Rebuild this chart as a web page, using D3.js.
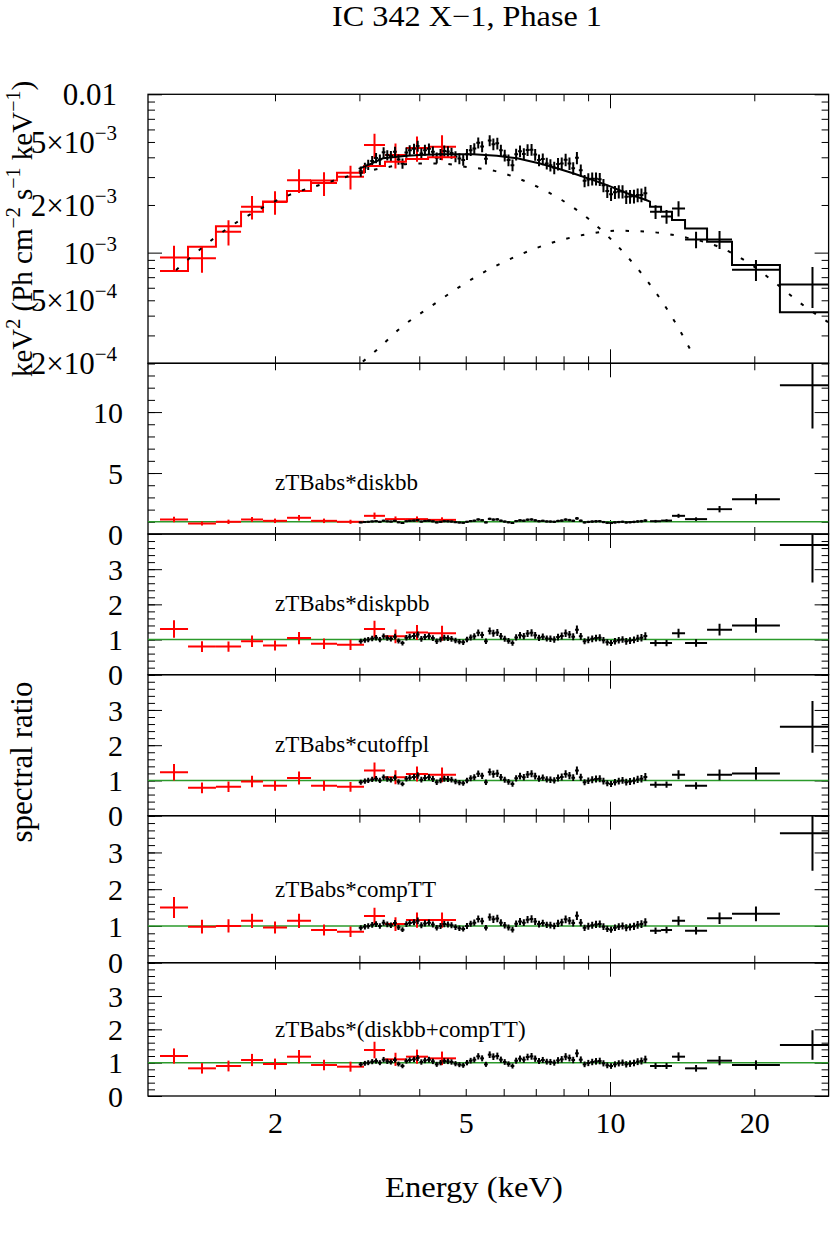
<!DOCTYPE html>
<html>
<head>
<meta charset="utf-8">
<title>IC 342 X-1, Phase 1</title>
<script src="https://cdn.jsdelivr.net/npm/d3@7"></script>
<style type="text/css">
	body {
		margin: 0;
		background: #fff;
	}

	svg {
		display: block;
	}

	.spectrum text {
		font-family: "Liberation Serif", "DejaVu Serif", serif;
		fill: #000;
	}
</style>
</head>
<body>

<svg class="spectrum"></svg>

<script type="text/javascript">
	(function() {
		'use strict'

		// ---- data (energies in keV, flux in keV^2 Ph cm^-2 s^-1 keV^-1)

		// red instrument: 12 grouped bins
		var redLo = [1.151, 1.317, 1.506, 1.699, 1.888, 2.119, 2.378, 2.694, 3.067, 3.393, 3.752, 4.172]
		var redHi = [1.317, 1.506, 1.699, 1.888, 2.119, 2.378, 2.694, 3.067, 3.393, 3.752, 4.172, 4.772]
		var redFlux = [9.3e-4, 9.2e-4, 1.355e-3, 1.95e-3, 2.09e-3, 2.87e-3, 2.75e-3, 3.02e-3, 4.78e-3, 4.14e-3, 4.58e-3, 4.67e-3]
		var redRelErr = [0.19, 0.19, 0.18, 0.17, 0.17, 0.17, 0.17, 0.17, 0.18, 0.18, 0.18, 0.18]
		var redModel = [7.65e-4, 1.09e-3, 1.47e-3, 1.81e-3, 2.10e-3, 2.45e-3, 2.85e-3, 3.2e-3, 3.52e-3, 3.75e-3, 3.9e-3, 4.0e-3]

		// black instrument, finely binned part (bin centres)
		var blackE = [3.02, 3.08, 3.13, 3.19, 3.25, 3.31, 3.37, 3.43, 3.49, 3.56,
			3.62, 3.69, 3.76, 3.82, 3.90, 3.97, 4.04, 4.11, 4.19, 4.27,
			4.35, 4.43, 4.51, 4.59, 4.67, 4.76, 4.85, 4.94, 5.03, 5.12,
			5.21, 5.31, 5.41, 5.51, 5.61, 5.71, 5.82, 5.92, 6.03, 6.14,
			6.26, 6.37, 6.49, 6.61, 6.73, 6.86, 6.98, 7.11, 7.24, 7.38,
			7.51, 7.65, 7.79, 7.93, 8.08, 8.23, 8.38, 8.53, 8.69, 8.85,
			9.01, 9.18, 9.35, 9.52, 9.69, 9.87, 10.05, 10.24, 10.43, 10.62,
			10.81, 11.01, 11.22, 11.42, 11.63, 11.85]
		var blackFlux = [3.26e-3, 3.44e-3, 3.59e-3, 3.79e-3, 3.96e-3, 3.87e-3, 4.30e-3, 4.13e-3, 4.08e-3, 4.34e-3,
			3.88e-3, 3.66e-3, 4.29e-3, 4.43e-3, 4.53e-3, 4.71e-3, 4.22e-3, 4.44e-3, 4.53e-3, 4.34e-3,
			3.97e-3, 4.18e-3, 4.39e-3, 4.35e-3, 4.26e-3, 4.05e-3, 3.93e-3, 3.85e-3, 4.18e-3, 4.43e-3,
			4.55e-3, 4.94e-3, 4.68e-3, 3.92e-3, 5.10e-3, 4.84e-3, 4.90e-3, 4.43e-3, 4.11e-3, 3.84e-3,
			3.57e-3, 4.18e-3, 4.37e-3, 4.20e-3, 4.45e-3, 4.47e-3, 4.16e-3, 3.84e-3, 3.90e-3, 3.66e-3,
			3.57e-3, 3.44e-3, 3.63e-3, 3.66e-3, 3.86e-3, 3.66e-3, 3.41e-3, 3.97e-3, 3.31e-3, 2.84e-3,
			2.90e-3, 2.93e-3, 2.93e-3, 2.91e-3, 2.66e-3, 2.45e-3, 2.34e-3, 2.41e-3, 2.43e-3, 2.43e-3,
			2.25e-3, 2.26e-3, 2.27e-3, 2.31e-3, 2.31e-3, 2.37e-3]
		var blackRelErr = [0.075, 0.075, 0.075, 0.075, 0.075, 0.075, 0.075, 0.075, 0.075, 0.075,
			0.075, 0.075, 0.075, 0.075, 0.075, 0.08, 0.08, 0.08, 0.08, 0.08,
			0.08, 0.08, 0.08, 0.08, 0.08, 0.08, 0.08, 0.08, 0.08, 0.08,
			0.08, 0.08, 0.08, 0.08, 0.08, 0.085, 0.085, 0.085, 0.085, 0.085,
			0.085, 0.085, 0.085, 0.085, 0.085, 0.085, 0.085, 0.085, 0.085, 0.085,
			0.09, 0.09, 0.09, 0.09, 0.09, 0.09, 0.09, 0.09, 0.09, 0.09,
			0.095, 0.095, 0.095, 0.095, 0.095, 0.095, 0.095, 0.095, 0.095, 0.095,
			0.10, 0.10, 0.10, 0.10, 0.10, 0.10]
		// ratio of the fine bins (same pattern in every residual panel)
		var blackRatio = [0.95, 0.98, 1.00, 1.03, 1.05, 1.00, 1.09, 1.04, 1.02, 1.08,
			0.96, 0.90, 1.05, 1.08, 1.10, 1.14, 1.02, 1.07, 1.09, 1.04,
			0.95, 1.00, 1.05, 1.04, 1.02, 0.97, 0.94, 0.92, 1.00, 1.06,
			1.09, 1.19, 1.13, 0.95, 1.24, 1.18, 1.20, 1.09, 1.02, 0.96,
			0.90, 1.06, 1.12, 1.09, 1.17, 1.19, 1.12, 1.05, 1.08, 1.03,
			1.02, 1.00, 1.07, 1.10, 1.18, 1.14, 1.08, 1.28, 1.09, 0.95,
			0.99, 1.02, 1.04, 1.05, 0.98, 0.92, 0.90, 0.95, 0.98, 1.00,
			0.95, 0.97, 0.99, 1.03, 1.05, 1.10]
		// black model over the fine bins
		var blackModelE = [2.99, 3.16, 3.36, 3.56, 3.77, 4.01, 4.42, 5.18, 5.81, 6.40, 7.14, 7.75, 8.37, 9.22, 9.86, 10.85, 11.89, 12.12]
		var blackModelF = [3.38e-3, 3.62e-3, 3.94e-3, 4.02e-3, 4.09e-3, 4.14e-3, 4.18e-3, 4.18e-3, 4.09e-3, 3.94e-3, 3.66e-3, 3.41e-3, 3.17e-3, 2.87e-3, 2.67e-3, 2.37e-3, 2.15e-3, 2.10e-3]

		// black instrument, wide bins above 12 keV
		var blackHiLo = [12.12, 12.78, 13.47, 14.34, 15.94, 17.97, 22.62]
		var blackHiHi = [12.78, 13.47, 14.34, 15.94, 17.97, 22.62, 30.93]
		var blackHiFlux = [1.81e-3, 1.69e-3, 1.90e-3, 1.21e-3, 1.21e-3, 7.8e-4, 6.3e-4]
		var blackHiRelErr = [0.10, 0.10, 0.11, 0.12, 0.13, 0.15, 0.29]
		var blackHiModel = [1.95e-3, 1.81e-3, 1.61e-3, 1.42e-3, 1.17e-3, 8.35e-4, 4.2e-4]

		// dotted model components
		var diskbbE = [1.243, 1.406, 1.611, 1.843, 2.139, 2.515, 2.938, 3.42, 3.918, 4.42, 4.98, 5.84, 6.86, 7.93, 9.08, 10.24, 11.40, 12.61, 13.78, 14.92]
		var diskbbF = [7.76e-4, 1.069e-3, 1.458e-3, 1.858e-3, 2.31e-3, 2.71e-3, 3.12e-3, 3.46e-3, 3.66e-3, 3.66e-3, 3.49e-3, 3.24e-3, 2.71e-3, 2.15e-3, 1.607e-3, 1.145e-3, 7.96e-4, 5.32e-4, 3.49e-4, 2.25e-4]
		var compttE = [3.05, 3.26, 3.68, 4.20, 4.80, 5.53, 6.41, 7.50, 8.77, 10.36, 12.22, 14.34, 16.70, 19.43, 22.09, 25.12, 28.5]
		var compttF = [2.05e-4, 2.43e-4, 3.40e-4, 4.51e-4, 5.95e-4, 7.69e-4, 9.56e-4, 1.145e-3, 1.292e-3, 1.375e-3, 1.349e-3, 1.249e-3, 1.101e-3, 8.63e-4, 6.46e-4, 4.73e-4, 3.64e-4]

		// spectral ratios, one row per fitted model
		var modelNames = ['zTBabs*diskbb', 'zTBabs*diskpbb', 'zTBabs*cutoffpl', 'zTBabs*compTT', 'zTBabs*(diskbb+compTT)']
		var redRatio = [
			[1.19, 0.86, 1.00, 1.19, 1.08, 1.33, 1.08, 1.00, 1.49, 1.22, 1.22, 1.16],
			[1.30, 0.80, 0.80, 0.95, 0.83, 1.04, 0.88, 0.85, 1.30, 1.09, 1.20, 1.18],
			[1.23, 0.79, 0.82, 0.97, 0.85, 1.07, 0.85, 0.82, 1.28, 1.09, 1.18, 1.16],
			[1.50, 0.98, 1.00, 1.14, 0.96, 1.14, 0.89, 0.84, 1.27, 1.05, 1.16, 1.16],
			[1.20, 0.83, 0.90, 1.08, 0.96, 1.18, 0.93, 0.88, 1.38, 1.10, 1.18, 1.13]
		]
		var blackHiRatio = [
			[1.05, 1.10, 1.49, 1.22, 2.04, 2.86, 12.2],
			[0.90, 0.90, 1.18, 0.90, 1.28, 1.40, 3.69],
			[0.88, 0.88, 1.16, 0.85, 1.16, 1.20, 2.52],
			[0.87, 0.89, 1.14, 0.87, 1.21, 1.33, 3.52],
			[0.90, 0.90, 1.18, 0.83, 1.06, 0.93, 1.53]
		]

		var xTickMinor = [2, 3, 4, 5, 6, 7, 8, 9, 20]
		var xTickMajor = [10]
		var xTickLabels = [2, 5, 10, 20]

		// ---- layout

		var width = 830
		var height = 1235
		var left = 148
		var right = 828.6
		var minorLen = 7
		var majorLen = 14

		var svg = d3.select('.spectrum')
			.attr('width', width)
			.attr('height', height)
			.attr('viewBox', [0, 0, width, height])

		var x = d3.scaleLog().domain([1.0866, 28.58]).range([left, right])

		var topPanel = {top: 94.3, bottom: 363.3}
		var yTop = d3.scaleLog().domain([2e-4, 0.01]).range([topPanel.bottom, topPanel.top])

		var ratioPanels = [
			{top: 363.3, bottom: 534, max: 14, step: 1, major: [0, 5, 10], labelAt: 3.6},
			{top: 534, bottom: 674.7, max: 4, step: 0.2, major: [0, 1, 2, 3], labelAt: 1.8},
			{top: 674.7, bottom: 815.7, max: 4, step: 0.2, major: [0, 1, 2, 3], labelAt: 1.8},
			{top: 815.7, bottom: 962.7, max: 4, step: 0.2, major: [0, 1, 2, 3], labelAt: 1.8},
			{top: 962.7, bottom: 1096, max: 4, step: 0.2, major: [0, 1, 2, 3], labelAt: 1.76}
		]

		// ---- bins

		var n = blackE.length
		var blackBins = blackE.map(function(e, i) {
			var lo = i > 0 ? Math.sqrt(blackE[i - 1] * e) : e / Math.sqrt(blackE[1] / e)
			var hi = i < n - 1 ? Math.sqrt(e * blackE[i + 1]) : e * Math.sqrt(e / blackE[n - 2])
			return {lo: lo, hi: hi, c: e}
		}).concat(blackHiLo.map(function(lo, i) {
			return {lo: lo, hi: blackHiHi[i], c: Math.sqrt(lo * blackHiHi[i])}
		}))
		var blackVals = blackFlux.concat(blackHiFlux)
		var blackErr = blackRelErr.concat(blackHiRelErr)

		var redBins = redLo.map(function(lo, i) {
			return {lo: lo, hi: redHi[i], c: Math.sqrt(lo * redHi[i])}
		})

		function points(bins, vals, rel) {
			return bins.map(function(b, i) {
				return {lo: b.lo, hi: b.hi, c: b.c, v: vals[i], e: vals[i] * rel[i]}
			})
		}

		function steps(lo, hi, vals) {
			var pts = []
			vals.forEach(function(v, i) {
				pts.push([lo[i], v], [hi[i], v])
			})
			return pts
		}

		// ---- helpers

		var clipId = 0
		function panelGroup(top, bottom) {
			var id = 'clip' + (clipId++)
			svg.append('clipPath').attr('id', id)
				.append('rect')
				.attr('x', left).attr('y', top)
				.attr('width', right - left).attr('height', bottom - top)
			return svg.append('g').attr('clip-path', 'url(#' + id + ')')
		}

		function crosses(g, pts, y, color) {
			var c = g.append('g')
				.attr('stroke', color)
				.attr('stroke-width', 2)
				.attr('fill', 'none')
			c.selectAll('.h').data(pts).join('line')
				.attr('class', 'h')
				.attr('x1', function(d) { return x(d.lo) })
				.attr('x2', function(d) { return x(d.hi) })
				.attr('y1', function(d) { return y(d.v) })
				.attr('y2', function(d) { return y(d.v) })
			c.selectAll('.v').data(pts).join('line')
				.attr('class', 'v')
				.attr('x1', function(d) { return x(d.c) })
				.attr('x2', function(d) { return x(d.c) })
				.attr('y1', function(d) { return y(d.v - d.e) })
				.attr('y2', function(d) { return y(d.v + d.e) })
		}

		function tickAxis(axis, tx, ty, values, len) {
			var g = svg.append('g')
				.attr('transform', 'translate(' + [tx, ty] + ')')
				.call(axis.tickValues(values).tickSize(-len).tickFormat(''))
			g.select('.domain').remove()
			g.selectAll('line').attr('stroke', '#000').attr('stroke-width', 1)
		}

		function frame(top, bottom, y, yMinor, yMajor) {
			tickAxis(d3.axisBottom(x), 0, bottom, xTickMinor, minorLen)
			tickAxis(d3.axisBottom(x), 0, bottom, xTickMajor, majorLen)
			tickAxis(d3.axisTop(x), 0, top, xTickMinor, minorLen)
			tickAxis(d3.axisTop(x), 0, top, xTickMajor, majorLen)
			tickAxis(d3.axisLeft(y), left, 0, yMinor, minorLen)
			tickAxis(d3.axisLeft(y), left, 0, yMajor, majorLen)
			tickAxis(d3.axisRight(y), right, 0, yMinor, minorLen)
			tickAxis(d3.axisRight(y), right, 0, yMajor, majorLen)
			svg.append('rect')
				.attr('x', left).attr('y', top)
				.attr('width', right - left).attr('height', bottom - top)
				.attr('fill', 'none')
				.attr('stroke', '#000')
				.attr('stroke-width', 1.3)
		}

		function labelAxis(axis, tx, ty, values, pad, size) {
			var g = svg.append('g')
				.attr('transform', 'translate(' + [tx, ty] + ')')
				.call(axis.tickValues(values).tickSize(0).tickPadding(pad))
			g.select('.domain').remove()
			g.attr('font-family', null).attr('font-size', size)
			return g
		}

		// text with superscripts: parts are [normal, superscript] pairs
		function richText(t, parts, size) {
			var shift = Math.round(size * 0.42)
			var raised = false
			parts.forEach(function(p) {
				if (p[0]) {
					t.append('tspan').attr('dy', raised ? shift : null).text(p[0])
					raised = false
				}
				if (p[1]) {
					t.append('tspan')
						.attr('dy', raised ? null : -shift)
						.attr('font-size', Math.round(size * 0.68))
						.text(p[1])
					raised = true
				}
			})
		}

		// ---- top panel: unfolded spectrum

		var minorTop = d3.range(2, 10).map(function(k) { return k * 1e-4 })
			.concat(d3.range(2, 10).map(function(k) { return k * 1e-3 }))
		frame(topPanel.top, topPanel.bottom, yTop, minorTop, [1e-3, 1e-2])

		var topLabels = [[0.01, '0.01', ''], [5e-3, '5×10', '−3'], [2e-3, '2×10', '−3'],
			[1e-3, '10', '−3'], [5e-4, '5×10', '−4'], [2e-4, '2×10', '−4']]
		var tl = labelAxis(d3.axisLeft(yTop), left, 0, topLabels.map(function(d) { return d[0] }), 31, 31)
		tl.selectAll('text').each(function(d, i) {
			var t = d3.select(this).text(null).attr('dy', '0.34em')
			richText(t, [[topLabels[i][1], topLabels[i][2]]], 31)
		})

		var gTop = panelGroup(topPanel.top, topPanel.bottom)
		var logLine = d3.line()
			.x(function(d) { return x(d[0]) })
			.y(function(d) { return yTop(d[1]) })

		crosses(gTop, points(redBins, redFlux, redRelErr), yTop, '#ff0000')
		crosses(gTop, points(blackBins, blackVals, blackErr), yTop, '#000')

		gTop.append('path')
			.datum(steps(redLo, redHi, redModel))
			.attr('d', logLine)
			.attr('fill', 'none').attr('stroke', '#ff0000').attr('stroke-width', 2)

		var blackModelPts = blackModelE.map(function(e, i) { return [e, blackModelF[i]] })
			.concat(steps(blackHiLo, blackHiHi, blackHiModel))
		gTop.append('path')
			.datum(blackModelPts)
			.attr('d', logLine)
			.attr('fill', 'none').attr('stroke', '#000').attr('stroke-width', 2)

		var dotted = d3.line()
			.x(function(d) { return x(d[0]) })
			.y(function(d) { return yTop(d[1]) })
			.curve(d3.curveMonotoneX)
		;[[diskbbE, diskbbF], [compttE, compttF]].forEach(function(c) {
			gTop.append('path')
				.datum(c[0].map(function(e, i) { return [e, c[1][i]] }))
				.attr('d', dotted)
				.attr('fill', 'none')
				.attr('stroke', '#000')
				.attr('stroke-width', 2)
				.attr('stroke-dasharray', '3.5,11.5')
		})

		// ---- ratio panels

		ratioPanels.forEach(function(p, k) {
			var y = d3.scaleLinear().domain([0, p.max]).range([p.bottom, p.top])
			var minor = d3.range(0, p.max + 1e-6, p.step).map(function(v) { return +v.toFixed(2) })
			frame(p.top, p.bottom, y, minor, p.major)

			labelAxis(d3.axisLeft(y).tickFormat(d3.format('d')), left, 0, p.major, 25, 30)
				.selectAll('text').attr('dy', '0.34em')

			var g = panelGroup(p.top, p.bottom)
			g.append('line')
				.attr('x1', left).attr('x2', right)
				.attr('y1', y(1)).attr('y2', y(1))
				.attr('stroke', '#2b9a2b')
				.attr('stroke-width', 1.5)

			crosses(g, points(redBins, redRatio[k], redRelErr), y, '#ff0000')
			crosses(g, points(blackBins, blackRatio.concat(blackHiRatio[k]), blackErr), y, '#000')

			svg.append('text')
				.attr('x', x(2.0))
				.attr('y', y(p.labelAt))
				.attr('font-size', 23)
				.text(modelNames[k])
		})

		// x tick labels under the last panel
		var last = ratioPanels[ratioPanels.length - 1]
		labelAxis(d3.axisBottom(x).tickFormat(d3.format('d')), 0, last.bottom, xTickLabels, 16, 30)

		// ---- titles

		svg.append('text')
			.attr('x', 467).attr('y', 26)
			.attr('text-anchor', 'middle')
			.attr('font-size', 29)
			.attr('textLength', 270)
			.attr('lengthAdjust', 'spacingAndGlyphs')
			.text('IC 342 X−1, Phase 1')

		svg.append('text')
			.attr('x', 474).attr('y', 1197)
			.attr('text-anchor', 'middle')
			.attr('font-size', 30)
			.attr('textLength', 178)
			.attr('lengthAdjust', 'spacingAndGlyphs')
			.text('Energy (keV)')

		var yt = svg.append('text')
			.attr('transform', 'translate(32,229) rotate(-90)')
			.attr('text-anchor', 'middle')
			.attr('font-size', 29)
		richText(yt, [['keV', '2'], [' (Ph cm', '−2'], [' s', '−1'], [' keV', '−1'], [')', '']], 29)

		svg.append('text')
			.attr('transform', 'translate(32,762) rotate(-90)')
			.attr('text-anchor', 'middle')
			.attr('font-size', 31)
			.text('spectral ratio')

	})()
</script>
</body>
</html>
